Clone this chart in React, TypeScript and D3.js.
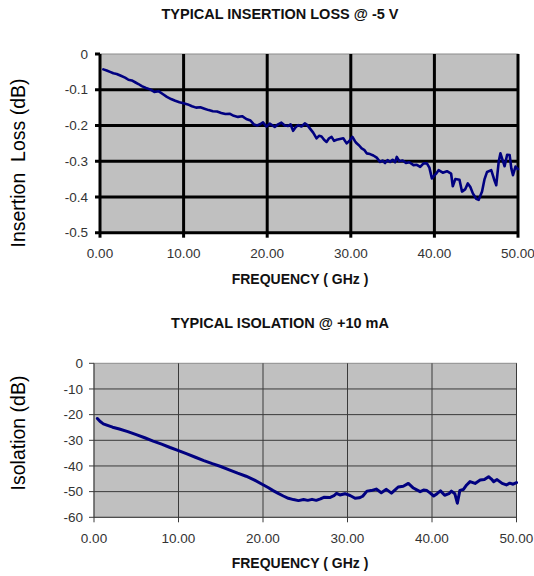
import React from "react";
import * as d3 from "d3";

// Shared frequency axis (GHz)
const freqTicks = [0, 10, 20, 30, 40, 50];

// Insertion loss @ -5 V
const lossTicks = [0, -0.1, -0.2, -0.3, -0.4, -0.5];
const lossFreq = [
  0.4, 0.8, 1.2, 1.6, 2.0, 2.5, 3.0, 3.4, 3.8, 4.2, 4.6, 5.0, 5.5, 6.0, 6.5, 7.0, 7.5, 8.0, 8.5, 9.0,
  9.5, 10.0, 10.5, 11.0, 11.5, 12.0, 12.5, 13.0, 13.5, 14.0, 14.5, 15.0, 15.5, 16.0, 16.5, 17.0, 17.5,
  18.0, 18.4, 18.8, 19.2, 19.5, 19.9, 20.3, 20.9, 21.3, 21.7, 22.1, 22.5, 22.8, 23.1, 23.4, 23.7, 24.1,
  24.5, 24.8, 25.1, 25.5, 25.9, 26.2, 26.5, 26.8, 27.1, 27.4, 27.7, 28.0, 28.3, 28.7, 29.1, 29.5, 29.8,
  30.2, 30.5, 30.7, 31.0, 31.3, 31.6, 31.9, 32.3, 32.7, 33.1, 33.5, 33.8, 34.1, 34.4, 34.7, 35.0, 35.3,
  35.5, 35.8, 36.2, 36.6, 37.0, 37.5, 37.9, 38.3, 38.7, 39.1, 39.4, 39.7, 40.2, 40.5, 41.0, 41.5, 42.0,
  42.2, 42.5, 43.0, 43.3, 43.7, 44.0, 44.3, 44.6, 45.0, 45.3, 45.7, 46.0, 46.3, 46.8, 47.2, 47.4, 47.7,
  47.9, 48.2, 48.4, 48.7, 49.0, 49.2, 49.4, 49.7, 50.0,
];
const lossDb = [
  -0.043, -0.046, -0.05, -0.054, -0.056, -0.061, -0.066, -0.072, -0.074, -0.079, -0.084, -0.09, -0.095,
  -0.099, -0.106, -0.104, -0.112, -0.12, -0.126, -0.131, -0.135, -0.138, -0.141, -0.146, -0.15, -0.149,
  -0.153, -0.157, -0.16, -0.161, -0.165, -0.168, -0.167, -0.173, -0.176, -0.174, -0.182, -0.186, -0.197,
  -0.2, -0.196, -0.191, -0.203, -0.195, -0.204, -0.197, -0.192, -0.2, -0.201, -0.197, -0.215, -0.205,
  -0.199, -0.203, -0.194, -0.199, -0.208, -0.22, -0.236, -0.229, -0.231, -0.24, -0.246, -0.236, -0.232,
  -0.243, -0.24, -0.238, -0.236, -0.25, -0.244, -0.232, -0.244, -0.25, -0.256, -0.264, -0.268, -0.278,
  -0.28, -0.284, -0.29, -0.302, -0.298, -0.305, -0.297, -0.302, -0.296, -0.303, -0.288, -0.3, -0.298,
  -0.305, -0.303, -0.311, -0.31, -0.316, -0.306, -0.306, -0.318, -0.348, -0.335, -0.325, -0.332, -0.328,
  -0.335, -0.37, -0.35, -0.352, -0.385, -0.378, -0.362, -0.372, -0.39, -0.405, -0.408, -0.385, -0.35,
  -0.33, -0.325, -0.355, -0.367, -0.3, -0.278, -0.3, -0.314, -0.282, -0.283, -0.32, -0.339, -0.315,
  -0.322,
];

// Isolation @ +10 mA
const isoTicks = [0, -10, -20, -30, -40, -50, -60];
const isoFreq = [
  0.4, 0.7, 1.1, 1.6, 2.2, 3.0, 4.0, 5.0, 6.0, 7.0, 8.0, 9.0, 10.0, 11.0, 12.0, 13.0, 14.0, 15.0, 16.0,
  17.0, 18.0, 19.0, 20.0, 20.6, 21.2, 21.8, 22.4, 23.0, 23.6, 24.2, 24.8, 25.3, 25.8, 26.3, 26.8, 27.2,
  27.9, 28.4, 28.7, 29.1, 29.7, 30.3, 30.9, 31.4, 31.8, 32.3, 32.8, 33.4, 34.0, 34.6, 35.2, 35.6, 36.0,
  36.6, 37.2, 37.8, 38.2, 38.6, 39.0, 39.4, 39.8, 40.2, 40.6, 41.0, 41.5, 42.0, 42.3, 42.7, 43.0, 43.3,
  43.7, 44.1, 44.5, 45.1, 45.7, 46.2, 46.7, 47.0, 47.3, 47.7, 48.3, 48.8, 49.2, 49.6, 50.0,
];
const isoDb = [
  -21.5, -22.6, -23.6, -24.2, -24.9, -25.6, -26.6, -27.8, -29.0, -30.3, -31.5, -32.8, -34.0, -35.3,
  -36.6, -37.9, -39.1, -40.2, -41.5, -42.8, -44.0, -45.5, -47.3, -48.4, -49.6, -50.7, -51.7, -52.6,
  -53.1, -53.5, -53.1, -53.4, -53.0, -53.4, -52.8, -52.2, -52.3, -51.6, -50.7, -51.3, -50.8, -51.5,
  -52.6, -52.4, -51.8, -49.8, -49.6, -49.0, -50.4, -49.1, -50.6, -49.4, -48.2, -47.9, -46.8, -48.6,
  -49.3, -50.0, -49.4, -49.6, -50.6, -51.7, -50.8, -49.7, -51.4, -50.8, -49.8, -50.8, -54.5, -49.5,
  -49.2, -47.4, -46.1, -46.8, -45.5, -45.3, -44.2, -45.0, -46.1, -45.3, -46.8, -47.4, -46.7, -47.1,
  -46.5,
];

const FONT = "'Liberation Sans', Arial, sans-serif";

type PanelProps = {
  title: string;
  yLabel: string;
  freq: number[];
  values: number[];
  yTicks: number[];
  yFmt: (v: number) => string;
  left: number;
  right: number;
  top: number;
  bottom: number;
  heavy: boolean;
  lineWidth: number;
  yLabelCenter: number;
};

function Panel(p: PanelProps) {
  const x = d3.scaleLinear().domain([0, 50]).range([p.left, p.right]);
  const yMin = d3.min(p.yTicks) as number;
  const y = d3.scaleLinear().domain([yMin, 0]).range([p.bottom, p.top]);
  const line = d3
    .line<number>()
    .x((_, i) => x(p.freq[i]))
    .y((v) => y(v));

  const gridColor = p.heavy ? "#000" : "#3a3a3a";
  const gridW = p.heavy ? 3 : 1;
  const tickLen = 5;

  return (
    <g>
      <text
        x={280}
        y={p.top - 35}
        textAnchor="middle"
        fontFamily={FONT}
        fontWeight="bold"
        fontSize={14.5}
        fill="#111"
      >
        {p.title}
      </text>
      <rect
        x={p.left}
        y={p.top}
        width={p.right - p.left}
        height={p.bottom - p.top}
        fill="#c0c0c0"
        stroke="#8c8c8c"
        strokeWidth={1}
      />
      {/* horizontal gridlines below the top edge */}
      {p.yTicks
        .filter((t) => t !== 0)
        .map((t) => (
          <line
            key={"h" + t}
            x1={p.left - tickLen}
            x2={p.right}
            y1={y(t)}
            y2={y(t)}
            stroke={gridColor}
            strokeWidth={gridW}
          />
        ))}
      <line
        x1={p.left - tickLen}
        x2={p.left}
        y1={y(0)}
        y2={y(0)}
        stroke={gridColor}
        strokeWidth={gridW}
      />
      {/* vertical gridlines with tick stubs below the axis */}
      {freqTicks.map((t) => (
        <line
          key={"v" + t}
          x1={x(t)}
          x2={x(t)}
          y1={p.top}
          y2={p.bottom + tickLen}
          stroke={gridColor}
          strokeWidth={gridW}
        />
      ))}
      <path
        d={line(p.values) || ""}
        fill="none"
        stroke="#000080"
        strokeWidth={p.lineWidth}
        strokeLinejoin="round"
        strokeLinecap="round"
      />
      {p.yTicks.map((t) => (
        <text
          key={"yl" + t}
          x={p.left - (p.heavy ? 12 : 11)}
          y={y(t)}
          dy="0.35em"
          textAnchor="end"
          fontFamily={FONT}
          fontSize={13.5}
          fill="#333"
        >
          {p.yFmt(t)}
        </text>
      ))}
      {freqTicks.map((t) => (
        <text
          key={"xl" + t}
          x={x(t)}
          y={p.bottom + 21}
          dy="0.35em"
          textAnchor="middle"
          fontFamily={FONT}
          fontSize={13.5}
          fill="#333"
        >
          {t.toFixed(2)}
        </text>
      ))}
      <text
        x={300}
        y={p.bottom + 46}
        dy="0.35em"
        textAnchor="middle"
        fontFamily={FONT}
        fontWeight="bold"
        fontSize={14}
        fill="#111"
      >
        FREQUENCY ( GHz )
      </text>
      <text
        transform={`translate(18,${p.yLabelCenter}) rotate(-90)`}
        dy="0.35em"
        textAnchor="middle"
        fontFamily={FONT}
        fontSize={19.5}
        fill="#000"
        style={{ whiteSpace: "pre" }}
      >
        {p.yLabel}
      </text>
    </g>
  );
}

export default function App() {
  return (
    <svg
      width={534}
      height={576}
      style={{ position: "absolute", left: 0, top: 0, background: "#fff" }}
    >
      <Panel
        title="TYPICAL INSERTION LOSS @ -5 V"
        yLabel={"Insertion  Loss (dB)"}
        freq={lossFreq}
        values={lossDb}
        yTicks={lossTicks}
        yFmt={(v) => (v === 0 ? "0" : v.toFixed(1))}
        left={100}
        right={518}
        top={54}
        bottom={232.7}
        heavy={true}
        lineWidth={2.6}
        yLabelCenter={163}
      />
      <Panel
        title="TYPICAL ISOLATION @ +10 mA"
        yLabel="Isolation (dB)"
        freq={isoFreq}
        values={isoDb}
        yTicks={isoTicks}
        yFmt={(v) => String(v)}
        left={94}
        right={516.5}
        top={363.3}
        bottom={517.3}
        heavy={false}
        lineWidth={3}
        yLabelCenter={433}
      />
    </svg>
  );
}
